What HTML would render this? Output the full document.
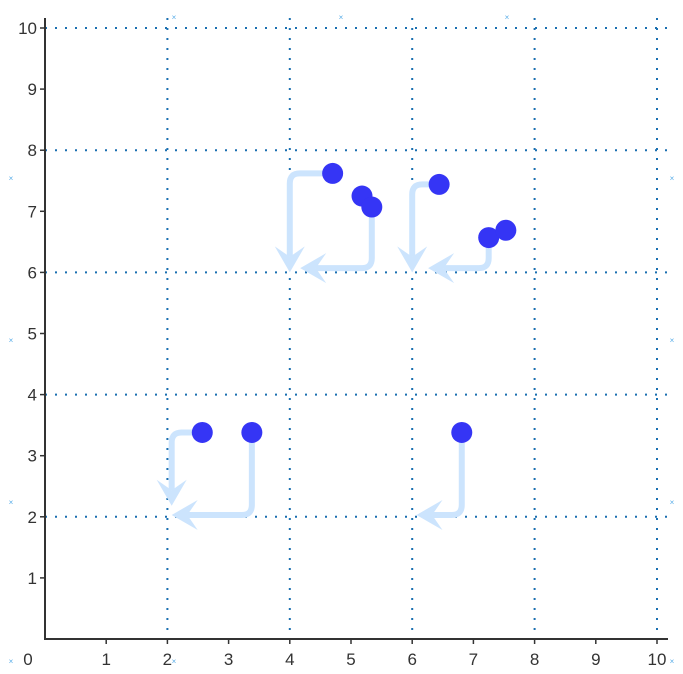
<!DOCTYPE html>
<html><head><meta charset="utf-8"><style>
body{margin:0;background:#fff;}
svg{display:block;font-family:"Liberation Sans",sans-serif;}
</style></head><body>
<svg id="chart" width="683" height="674" viewBox="0 0 683 674"></svg>
<script>
const xTicks=[0,1,2,3,4,5,6,7,8,9,10];
const yTicks=[1,2,3,4,5,6,7,8,9,10];
const gridVals=[2,4,6,8,10];
const ptX=[4.7,5.18,5.34,6.44,7.25,7.53,2.57,3.38,6.81];
const ptY=[7.62,7.25,7.07,7.44,6.57,6.69,3.38,3.38,3.38];
const arX0=[4.7,5.34,6.44,7.25,2.57,3.38,6.81];
const arY0=[7.62,7.07,7.44,6.57,3.38,3.38,3.38];
const arX1=[4.0,5.34,6.0,7.25,2.07,3.38,6.81];
const arY1=[7.62,6.07,7.44,6.07,3.38,2.03,2.03];
const arX2=[4.0,4.17,6.0,6.26,2.07,2.07,6.07];
const arY2=[6.0,6.07,6.0,6.07,2.18,2.03,2.03];
const NS="http://www.w3.org/2000/svg";
const svg=document.getElementById('chart');
const X=v=>45+v*61.2, Y=v=>639-v*61.1;
function mk(t,a,p){const e=document.createElementNS(NS,t);for(const k in a)e.setAttribute(k,a[k]);(p||svg).appendChild(e);return e;}
const grid=mk('g',{});


gridVals.forEach(v=>{
 mk('line',{x1:X(v),x2:X(v),y1:18,y2:639,stroke:'#1a6fb0','stroke-width':2,'stroke-dasharray':'2 8'},grid);
 mk('line',{x1:45,x2:668,y1:Y(v),y2:Y(v),stroke:'#1a6fb0','stroke-width':2,'stroke-dasharray':'2 8'},grid);
});
const mg=mk('g',{});


[[11,664],[174,20],[341,20],[507,20],[11,181],[672,181],[11,343],[672,343],[11,505],[672,505],[174,664],[672,664]].forEach(([x,y])=>{
 const t=mk('text',{x:x,y:y,'text-anchor':'middle','font-size':8,fill:'#5aaee8'},mg);t.textContent='×';
});
const ax=mk('g',{});


mk('line',{x1:45,x2:45,y1:18,y2:640,stroke:'#333','stroke-width':2},ax);
mk('line',{x1:44,x2:668,y1:639,y2:639,stroke:'#333','stroke-width':2},ax);
xTicks.forEach(v=>{
 if(v>0)mk('line',{x1:X(v),x2:X(v),y1:639,y2:644,stroke:'#333','stroke-width':1.5},ax);
 const t=mk('text',{x:X(v)+(v==0?-17:0),y:665,'text-anchor':'middle','font-size':17,fill:'#333'},ax);t.textContent=v;
 
 
});
yTicks.forEach(v=>{
 mk('line',{x1:40,x2:45,y1:Y(v),y2:Y(v),stroke:'#333','stroke-width':1.5},ax);
 const t=mk('text',{x:37,y:Y(v)+6,'text-anchor':'end','font-size':17,fill:'#333'},ax);t.textContent=v;
 
 
});
const arG=mk('g',{});


arX0.forEach((_,i)=>{
 const x0=X(arX0[i]),y0=Y(arY0[i]),x1=X(arX1[i]),y1=Y(arY1[i]),x2=X(arX2[i]),y2=Y(arY2[i]);
 const r=10;
 const d1x=Math.sign(x1-x0),d1y=Math.sign(y1-y0),d2x=Math.sign(x2-x1),d2y=Math.sign(y2-y1);
 const len=Math.hypot(x2-x1,y2-y1);
 const hl=Math.min(26,len);
 const ex=x2-d2x*hl*0.6, ey=y2-d2y*hl*0.6;
 const p=mk('path',{d:`M${x0},${y0} L${x1-d1x*r},${y1-d1y*r} Q${x1},${y1} ${x1+d2x*r},${y1+d2y*r} L${ex},${ey}`,fill:'none',stroke:'#cce4fd','stroke-width':6},arG);
 
 
 const px=-d2y,py=d2x;
 const bx=x2-d2x*hl,by=y2-d2y*hl;
 const h=mk('polygon',{points:`${x2},${y2} ${bx+px*15},${by+py*15} ${x2-d2x*hl*0.6},${y2-d2y*hl*0.6} ${bx-px*15},${by-py*15}`,fill:'#cce4fd'},arG);
 
 
});
const pg=mk('g',{});


ptX.forEach((_,i)=>{
 const c=mk('circle',{cx:X(ptX[i]),cy:Y(ptY[i]),r:10.5,fill:'#3535f5'},pg);
 
 
});
</script>
</body></html>
